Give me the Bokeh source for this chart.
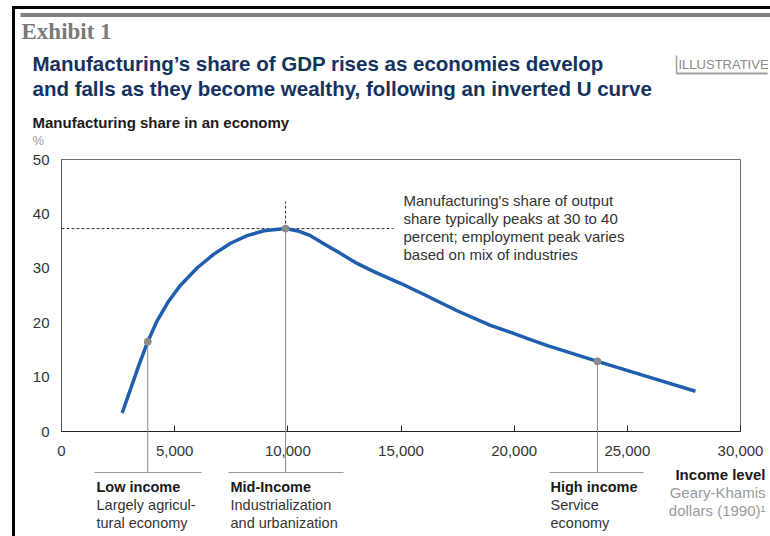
from bokeh.plotting import figure
from bokeh.models import FixedTicker, NumeralTickFormatter
from bokeh.core.properties import value
from bokeh.embed import file_html
from bokeh.resources import INLINE

# ---- data ----
income = [2680, 3050, 3420, 3810, 4230, 4740, 5260, 6000, 6730, 7470, 8200, 8940, 9900,
          10500, 11000, 11590, 12330, 13060, 13800, 15000, 16060, 17480, 18950, 20000, 20720,
          21470, 23680, 25890, 28010]
share = [3.4, 7.8, 12.2, 16.5, 20.4, 24.0, 26.9, 30.1, 32.6, 34.6, 36.0, 36.9, 37.3,
         36.8, 36.0, 34.5, 32.7, 30.9, 29.4, 27.2, 25.1, 22.2, 19.5, 18.0, 16.9,
         15.8, 12.9, 10.1, 7.4]
stage_income = [3810, 9900, 23680]
stage_share = [16.5, 37.3, 12.9]
stage_title = ["Low income", "Mid-Income", "High income"]
stage_desc = [["Largely agricul-", "tural economy"],
              ["Industrialization", "and urbanization"],
              ["Service", "economy"]]
x_ticks = [0, 5000, 10000, 15000, 20000, 25000, 30000]
y_ticks = [0, 10, 20, 30, 40, 50]
peak_note = ["Manufacturing's share of output",
             "share typically peaks at 30 to 40",
             "percent; employment peak varies",
             "based on mix of industries"]

# ---- layout helpers (reference-image pixels -> data units) ----
X0, X1, Y0, Y1 = 61, 740, 431, 159
def X(px):
    return (px - X0) * 30000 / (X1 - X0)
def Y(py):
    return (Y0 - py) * 50 / (Y0 - Y1)

SANS = "Liberation Sans"
W, H = 770, 536
p = figure(width=W, height=H, output_backend="svg", toolbar_location=None,
           x_range=(0, 30000), y_range=(0, 50),
           min_border_left=X0, min_border_right=W - X1, min_border_top=Y1, min_border_bottom=H - Y0)
p.background_fill_color = "white"
p.border_fill_color = "white"
p.outline_line_color = "#6e6e6e"
p.outline_line_width = 1
p.grid.visible = False

xa = p.xaxis[0]
xa.ticker = FixedTicker(ticks=x_ticks)
xa.formatter = NumeralTickFormatter(format="0,0")
xa.major_tick_in = 6
xa.major_tick_out = 0
xa.minor_tick_line_color = None
xa.axis_line_color = "#222222"
xa.major_tick_line_color = "#222222"
xa.major_label_text_font = SANS
xa.major_label_text_font_size = "15px"
xa.major_label_text_color = "#333333"
xa.major_label_standoff = 14

ya = p.yaxis[0]
ya.ticker = FixedTicker(ticks=y_ticks)
ya.major_tick_in = 0
ya.major_tick_out = 0
ya.minor_tick_line_color = None
ya.axis_line_color = "#555555"
ya.major_label_text_font = SANS
ya.major_label_text_font_size = "15px"
ya.major_label_text_color = "#333333"
ya.major_label_standoff = 12

# peak guides
pk = stage_share[1]
p.segment(x0=[0], y0=[pk], x1=[X(393)], y1=[pk], line_color="#333333", line_width=1, line_dash="3 2")
p.segment(x0=[stage_income[1]], y0=[pk], x1=[stage_income[1]], y1=[Y(201)],
          line_color="#333333", line_width=1, line_dash="3 2")

# stage connectors (extend below the axis)
sep_y = Y(472)
p.segment(x0=stage_income, y0=stage_share, x1=stage_income, y1=[sep_y] * 3,
          line_color="#8a8a8a", line_width=1, level="overlay")

# curve
p.line(income, share, line_color="#1f5fae", line_width=3.5, line_join="round", line_cap="butt")
p.scatter(stage_income, stage_share, size=7, fill_color="#8c8c8c", line_color="#8c8c8c", level="overlay")

# separators under stage labels
sep_spans = [(94, 201), (228, 343), (549, 643)]
p.segment(x0=[X(a) for a, b in sep_spans], y0=[sep_y] * 3, x1=[X(b) for a, b in sep_spans],
          y1=[sep_y] * 3, line_color="#9a9a9a", line_width=1, level="overlay")

def lab(px, py, text, size="15px", color="#333333", style="normal", align="left", font=SANS):
    p.text(x=[X(px)], y=[Y(py)], text=[text], text_font=value(font), text_font_size=size,
           text_color=color, text_font_style=style, text_align=align,
           text_baseline="middle", level="overlay")

# stage labels
lefts = [96, 230, 550]
for lx, t, d in zip(lefts, stage_title, stage_desc):
    lab(lx, 486, t, size="14.5px", color="#1a1a1a", style="bold")
    lab(lx, 504, d[0], size="14.5px", color="#333333")
    lab(lx, 522, d[1], size="14.5px", color="#333333")

# x-axis title
lab(765, 474, "Income level", color="#1a1a1a", style="bold", align="right")
lab(765, 492, "Geary-Khamis", color="#9a9a9a", align="right")
lab(765, 510, "dollars (1990)\u00b9", color="#9a9a9a", align="right")

# peak annotation
for i, t in enumerate(peak_note):
    lab(403, 200 + 18 * i, t, color="#333333")

# y-axis title
lab(32, 122, "Manufacturing share in an economy", color="#1a1a1a", style="bold")
lab(32, 140, "%", size="13px", color="#9a9a9a")

# header
lab(32, 63, "Manufacturing\u2019s share of GDP rises as economies develop", size="20.5px",
    color="#14325e", style="bold")
lab(32, 88, "and falls as they become wealthy, following an inverted U curve", size="20.5px",
    color="#14325e", style="bold")
lab(21, 31, "Exhibit 1", size="23px", color="#7a7a7a", style="bold", font="Liberation Serif")
lab(678, 64, "ILLUSTRATIVE", size="13px", color="#8a8a8a")
p.segment(x0=[X(676), X(676)], y0=[Y(73), Y(55)], x1=[X(767), X(676)], y1=[Y(73), Y(73)],
          line_color="#a0a0a0", line_width=[2, 1.5], level="overlay")

# page frame: black border and grey rule
p.segment(x0=[X(12), X(13)], y0=[Y(7), Y(6)], x1=[X(780), X(13)], y1=[Y(7), Y(545)],
          line_color="#000000", line_width=3, level="overlay")
p.segment(x0=[X(20)], y0=[Y(14.5)], x1=[X(780)], y1=[Y(14.5)],
          line_color="#7f7f7f", line_width=4, level="overlay")

open("out.html", "w").write(file_html(p, INLINE))
